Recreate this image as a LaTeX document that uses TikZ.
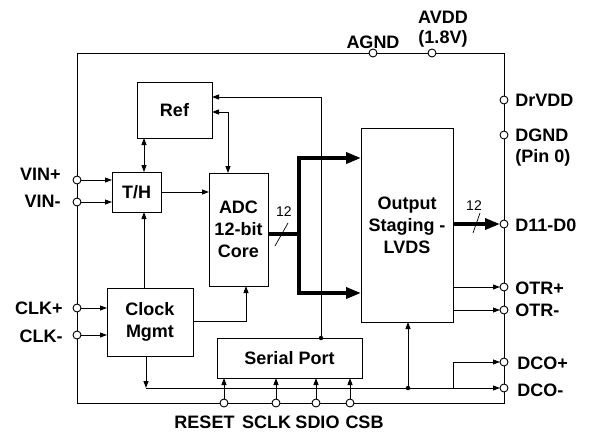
\documentclass[tikz,border=0pt]{standalone}
\usepackage{fontspec}
\setmainfont{Liberation Sans}
\usetikzlibrary{arrows.meta}
\begin{document}
\begin{tikzpicture}[x=1pt,y=-1pt,line width=0.9pt,
  font=\fontsize{18}{22}\selectfont\bfseries,
  blk/.style={draw,fill=white,inner sep=0pt,outer sep=0pt,align=center},
  pinc/.style={draw,circle,fill=white,minimum size=8pt,inner sep=0pt,outer sep=0pt},
  arr/.style={-{Triangle[length=7pt,width=5pt]}},
  darr/.style={{Triangle[length=7pt,width=5pt]}-{Triangle[length=7pt,width=5pt]}},
  bus/.style={line width=3.5pt},
  busarr/.style={line width=3.5pt,{Triangle[length=15pt,width=11pt]}-{Triangle[length=15pt,width=11pt]}},
  dot/.style={circle,fill,inner sep=0pt,minimum size=4.5pt},
  lbl/.style={inner sep=0pt},
  nfont/.style={font=\fontsize{14}{16}\selectfont\mdseries}]
\useasboundingbox (0,0) rectangle (590,432);

% outer frame
\draw (77,53) rectangle (504,403);

% blocks
\node[blk,minimum width=75pt,minimum height=56pt] (ref) at (174.5,110) {Ref};
\node[blk,minimum width=49pt,minimum height=40pt] (th) at (136.5,192) {T/H};
\node[blk,minimum width=59pt,minimum height=113pt] (adc) at (238.5,229.5) {ADC\\12-bit\\Core};
\node[blk,minimum width=86pt,minimum height=68pt] (clk) at (150,322) {Clock\\Mgmt};
\node[blk,minimum width=145pt,minimum height=40pt] (sp) at (289.5,358) {Serial Port};
\node[blk,minimum width=92pt,minimum height=194pt] (out) at (407,225) {Output\\Staging -\\LVDS};

% helper coordinates
\coordinate (c1) at (144,0);
\coordinate (r1) at (0,97);
\coordinate (r2) at (228,112);
\coordinate (spt) at (321,0);
\coordinate (c3) at (246,321);
\coordinate (c4) at (146,388);
\coordinate (c5) at (408,388);
\coordinate (c6) at (453,388);
\coordinate (b0) at (299,234);
\coordinate (bt) at (299,158);
\coordinate (bb) at (299,293);

% internal connectors
\draw[darr] (ref.south -| c1) -- (th.north -| c1);
\draw[arr] (th.east) -- (th.east -| adc.west);
\draw[darr] (ref.east |- r2) -| (adc.north -| r2);
\draw[arr] (sp.north -| spt) |- (ref.east |- r1);
\node[dot] (spdot) at (sp.north -| spt) {};
\draw[arr] (clk.north -| c1) -- (th.south -| c1);
\draw[arr] (clk.east |- c3) -| (adc.south -| c3);
\draw[arr] (clk.south -| c4) -- (c4);

% data bus
\draw[bus] (adc.east |- b0) -- (b0);
\draw[busarr,line join=miter] (out.west |- bt) -- (bt) -- (bb) -- (out.west |- bb);
\draw[line width=0.7pt] (275,246) -- (288,223);
\node[lbl,nfont] (n12a) at (284,212) {12};

% pins
\node[pinc] (vinp) at (77,180) {};
\node[pinc] (vinm) at (77,202) {};
\node[pinc] (clkp) at (77,308) {};
\node[pinc] (clkm) at (77,335) {};
\node[pinc] (agnd) at (373,53) {};
\node[pinc] (avdd) at (432,53) {};
\node[pinc] (drvdd) at (504,100) {};
\node[pinc] (dgnd) at (504,135) {};
\node[pinc] (dout) at (504,224) {};
\node[pinc] (otrp) at (504,287) {};
\node[pinc] (otrm) at (504,310) {};
\node[pinc] (dcop) at (504,362) {};
\node[pinc] (dcom) at (504,388) {};
\node[pinc] (reset) at (224,403) {};
\node[pinc] (sclk) at (276,403) {};
\node[pinc] (sdio) at (316,403) {};
\node[pinc] (csb) at (350,403) {};

% pin connectors
\draw[arr] (vinp) -- (vinp -| th.west);
\draw[arr] (vinm) -- (vinm -| th.west);
\draw[arr] (clkp) -- (clkp -| clk.west);
\draw[arr] (clkm) -- (clkm -| clk.west);
\draw[arr] (reset) -- (reset |- sp.south);
\draw[arr] (sclk) -- (sclk |- sp.south);
\draw[arr] (sdio) -- (sdio |- sp.south);
\draw[arr] (csb) -- (csb |- sp.south);
\draw[arr] (c4) -- (dcom);
\draw[arr] (c6) |- (dcop);
\draw[arr] (c5) -- (out.south -| c5);
\node[dot] (d5) at (c5) {};
\draw[arr] (out.east |- otrp) -- (otrp);
\draw[arr] (out.east |- otrm) -- (otrm);
\draw[bus,-{Triangle[length=15pt,width=11pt]}] (out.east |- dout) -- (dout);
\draw[line width=0.7pt] (473,233) -- (480,213);
\node[lbl,nfont] (n12b) at (474,206) {12};

% labels
\node[lbl,anchor=east] (lvinp) at (61,174) {VIN+};
\node[lbl,anchor=east] (lvinm) at (61,201) {VIN-};
\node[lbl,anchor=east] (lclkp) at (63,308) {CLK+};
\node[lbl,anchor=east] (lclkm) at (63,336) {CLK-};
\node[lbl] (lagnd) at (373,42) {AGND};
\node[lbl] (lavdd) at (443,17) {AVDD};
\node[lbl] (lavdd2) at (443,39) {(1.8V)};
\node[lbl,anchor=west] (ldrvdd) at (515,100) {DrVDD};
\node[lbl,anchor=west] (ldgnd) at (515,135) {DGND};
\node[lbl,anchor=west] (ldgnd2) at (515,158) {(Pin 0)};
\node[lbl,anchor=west] (ldout) at (515,225) {D11-D0};
\node[lbl,anchor=west] (lotrp) at (515,288) {OTR+};
\node[lbl,anchor=west] (lotrm) at (515,310) {OTR-};
\node[lbl,anchor=west] (ldcop) at (517,363) {DCO+};
\node[lbl,anchor=west] (ldcom) at (517,390) {DCO-};
\node[lbl] (lreset) at (204.5,422) {RESET};
\node[lbl] (lsclk) at (266.5,422) {SCLK};
\node[lbl] (lsdio) at (317.5,422) {SDIO};
\node[lbl] (lcsb) at (364.5,422) {CSB};
\end{tikzpicture}
\end{document}
